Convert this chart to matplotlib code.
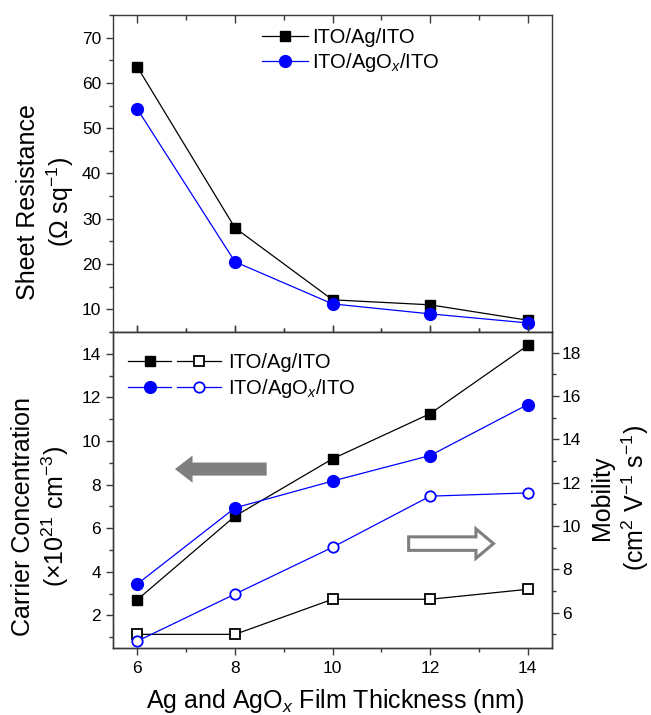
import matplotlib
matplotlib.use("Agg")
import matplotlib.pyplot as plt
from matplotlib.legend_handler import HandlerTuple
from matplotlib.patches import FancyArrow
from matplotlib.ticker import MultipleLocator

plt.rcParams['font.family'] = ['Liberation Sans', 'DejaVu Sans']
plt.rcParams['mathtext.fontset'] = 'custom'
plt.rcParams['mathtext.rm'] = 'Liberation Sans'
plt.rcParams['mathtext.it'] = 'Liberation Sans:italic'
plt.rcParams['mathtext.bf'] = 'Liberation Sans:bold'

# Film thickness (nm)
thickness = [6, 8, 10, 12, 14]

# Sheet resistance (ohm/sq)
rs_ag = [63.5, 28.0, 12.1, 11.0, 7.6]
rs_agox = [54.2, 20.5, 11.2, 9.0, 7.0]

# Carrier concentration (x10^21 cm^-3)
n_ag = [2.72, 6.55, 9.18, 11.25, 14.38]
n_agox = [3.44, 6.93, 8.16, 9.33, 11.67]

# Hall mobility (cm^2 V^-1 s^-1)
mu_ag = [5.0, 5.0, 6.62, 6.62, 7.08]
mu_agox = [4.69, 6.86, 9.02, 11.38, 11.53]

labels = ['ITO/Ag/ITO', 'ITO/AgO$_x$/ITO']

BLUE = '#0000ff'
SPINE = '#3a3a3a'
LW = 0.9

fig = plt.figure(figsize=(6.51, 7.15), dpi=100)
ax1 = fig.add_axes([0.1736, 0.5357, 0.6744, 0.4433])
ax2 = fig.add_axes([0.1736, 0.0937, 0.6744, 0.4420])
ax3 = ax2.twinx()

# ---- top panel: sheet resistance ----
ax1.plot(thickness, rs_ag, color='black', lw=LW, marker='s', ms=7.5,
         mfc='black', mec='black', label=labels[0])
ax1.plot(thickness, rs_agox, color=BLUE, lw=LW, marker='o', ms=8.5,
         mfc=BLUE, mec=BLUE, label=labels[1])
ax1.set_xlim(5.5, 14.5)
ax1.set_ylim(5, 75)
ax1.xaxis.set_major_locator(MultipleLocator(2))
ax1.xaxis.set_minor_locator(MultipleLocator(1))
ax1.yaxis.set_major_locator(MultipleLocator(10))
ax1.yaxis.set_minor_locator(MultipleLocator(5))
ax1.tick_params(axis='x', which='both', bottom=True, top=False, labelbottom=False,
                direction='inout')
ax1.tick_params(axis='x', which='major', length=9)
ax1.tick_params(axis='x', which='minor', length=6)
ax1.tick_params(axis='y', which='both', left=True, right=False, direction='out')
ax1.tick_params(axis='y', which='major', length=5, labelsize=12.5)
ax1.tick_params(axis='y', which='minor', length=3)

# inward ticks along the top edge
top = ax1.secondary_xaxis('top')
top.xaxis.set_major_locator(MultipleLocator(2))
top.xaxis.set_minor_locator(MultipleLocator(1))
top.tick_params(axis='x', which='both', direction='in', labeltop=False,
                color=SPINE, width=1.0)
top.tick_params(axis='x', which='major', length=6)
top.tick_params(axis='x', which='minor', length=3.5)
top.spines['top'].set_visible(False)

ax1.legend(loc='upper left', bbox_to_anchor=(0.339, 0.96), frameon=False,
           fontsize=14.5, handlelength=2.3, handletextpad=0.2, labelspacing=0.22,
           borderpad=0, borderaxespad=0)

# ---- bottom panel: carrier concentration (left) and mobility (right) ----
l_nag, = ax2.plot(thickness, n_ag, color='black', lw=LW, marker='s', ms=7.5,
                  mfc='black', mec='black')
l_nox, = ax2.plot(thickness, n_agox, color=BLUE, lw=LW, marker='o', ms=8.5,
                  mfc=BLUE, mec=BLUE)
l_mag, = ax3.plot(thickness, mu_ag, color='black', lw=LW, marker='s', ms=7,
                  mfc='white', mec='black', mew=1.3)
l_mox, = ax3.plot(thickness, mu_agox, color=BLUE, lw=LW, marker='o', ms=7.5,
                  mfc='white', mec=BLUE, mew=1.3)

ax2.set_xlim(5.5, 14.5)
ax2.set_ylim(0.5, 15.0)
ax3.set_ylim(4.37, 18.96)
ax2.xaxis.set_major_locator(MultipleLocator(2))
ax2.xaxis.set_minor_locator(MultipleLocator(1))
ax2.yaxis.set_major_locator(MultipleLocator(2))
ax2.yaxis.set_minor_locator(MultipleLocator(1))
ax3.yaxis.set_major_locator(MultipleLocator(2))
ax3.yaxis.set_minor_locator(MultipleLocator(1))
ax2.tick_params(axis='x', which='both', bottom=True, top=True, direction='out')
ax2.tick_params(axis='x', which='major', length=5, labelsize=12.5, pad=4)
ax2.tick_params(axis='x', which='minor', length=3)
ax2.tick_params(axis='y', which='both', left=True, right=False, direction='out')
ax2.tick_params(axis='y', which='major', length=5, labelsize=12.5)
ax2.tick_params(axis='y', which='minor', length=3)
ax3.tick_params(axis='y', which='both', right=True, direction='out')
ax3.tick_params(axis='y', which='major', length=5, labelsize=12.5, pad=2)
ax3.tick_params(axis='y', which='minor', length=3)

# direction arrows pointing to the matching axis
ax2.add_patch(FancyArrow(8.65, 8.71, -1.52, 0, width=0.6, head_width=1.25,
                         head_length=0.36, length_includes_head=False,
                         color='#7f7f7f', lw=0, zorder=1))
ax2.add_patch(FancyArrow(11.56, 5.29, 1.38, 0, width=0.62, head_width=1.35,
                         head_length=0.36, length_includes_head=False,
                         facecolor='white', edgecolor='#7f7f7f', lw=2.2, zorder=1))

ax2.legend([(l_nag, l_mag), (l_nox, l_mox)], labels,
           handler_map={tuple: HandlerTuple(ndivide=None, pad=0.3)},
           loc='upper left', bbox_to_anchor=(0.034, 0.932), frameon=False,
           fontsize=14.5, handlelength=4.6, handletextpad=0.35, labelspacing=0.22,
           borderpad=0, borderaxespad=0)

for ax in (ax1, ax2, ax3):
    for sp in ax.spines.values():
        sp.set_color(SPINE)
        sp.set_linewidth(1.0)
    ax.tick_params(which='both', color=SPINE, width=1.0)

# axis titles
fig.text(0.0707, 0.7175, 'Sheet Resistance\n(Ω sq$^{-1}$)', rotation=90,
         ha='center', va='center', multialignment='center', fontsize=18)
fig.text(0.063, 0.278, 'Carrier Concentration\n(×10$^{21}$ cm$^{-3}$)', rotation=90,
         ha='center', va='center', multialignment='center', fontsize=18)
fig.text(0.953, 0.3035, 'Mobility\n(cm$^{2}$ V$^{-1}$ s$^{-1}$)', rotation=90,
         ha='center', va='center', multialignment='center', fontsize=18)
fig.text(0.5146, 0.0098, 'Ag and AgO$_x$ Film Thickness (nm)', ha='center',
         va='baseline', fontsize=18)

fig.savefig('out.png', dpi=100)
